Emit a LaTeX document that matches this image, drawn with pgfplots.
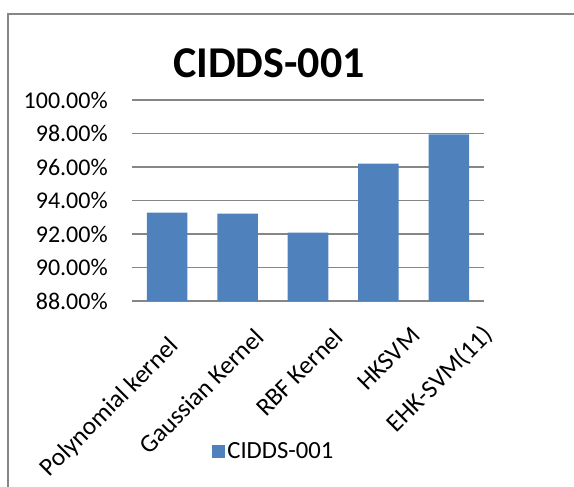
\documentclass[border=0pt]{standalone}
\usepackage{pgfplots}
\pgfplotsset{compat=1.18}
\usepackage{fontspec}
\setmainfont{Carlito}
\definecolor{barblue}{HTML}{4F81BD}
\definecolor{gridgray}{HTML}{868686}
\begin{document}
\begin{tikzpicture}
\useasboundingbox (0pt,0pt) rectangle (430.5pt,-364.5pt);
\draw[gridgray, line width=1.2pt] (6pt,-370pt) -- (6pt,-10.5pt) -- (435pt,-10.5pt);
\begin{axis}[
  at={(99pt,-225.75pt)}, anchor=south west,
  scale only axis,
  width=264pt, height=150.75pt,
  xmin=-0.5, xmax=4.5,
  ymin=88, ymax=100,
  ytick={88,90,...,100},
  xtick={0,1,2,3,4},
  xticklabels={Polynomial kernel,Gaussian Kernel,RBF Kernel,HKSVM,EHK-SVM(11)},
  ymajorgrids,
  grid style={gridgray, line width=0.9pt},
  axis line style={draw=none},
  major tick length=0pt,
  /pgf/number format/assume math mode=true,
  yticklabel={\pgfmathprintnumber[fixed,fixed zerofill,precision=2]{\tick}\%},
  yticklabel style={font=\fontsize{18}{20}\selectfont, inner sep=0pt, xshift=-18pt},
  xticklabel style={font=\fontsize{19}{21}\selectfont, inner sep=0pt,
    xshift={{0,11.5,18,23.5,24}[\ticknum]*1pt},
    yshift={{-25.5,-19,-19,-18.5,-16.5}[\ticknum]*1pt},
    rotate=45, anchor=north east},
  title={\textbf{CIDDS-001}},
  title style={font=\fontsize{33}{37}\selectfont, at={(0.389,1.144)}, anchor=center},
  ybar, bar width=30.4pt,
  legend style={at={(0.403,-0.751)}, anchor=center, draw=none, font=\fontsize{18.5}{20}\selectfont, inner sep=0pt},
  legend image code/.code={\fill[barblue] (0pt,-4.9pt) rectangle (9.75pt,4.9pt);},
]
\addplot[fill=barblue, draw=none] coordinates {(0,93.27) (1,93.21) (2,92.08) (3,96.20) (4,97.95)};
\addlegendentry{CIDDS-001}
\end{axis}
\end{tikzpicture}
\end{document}
